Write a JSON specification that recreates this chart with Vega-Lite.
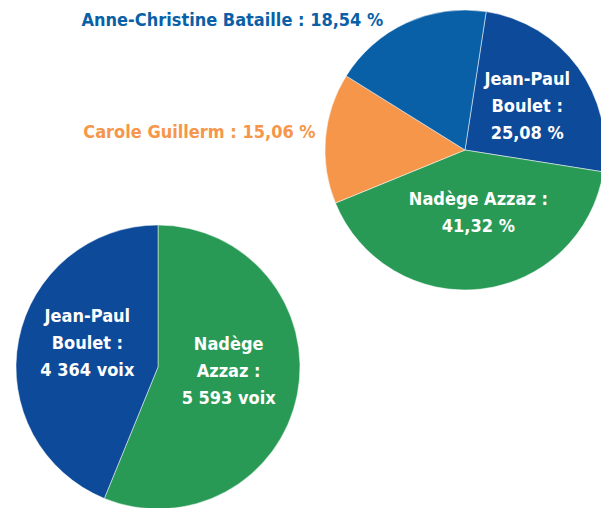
{
  "$schema": "https://vega.github.io/schema/vega-lite/v6.json",
  "width": 601,
  "height": 508,
  "autosize": {"type": "fit", "contains": "padding"},
  "padding": 0,
  "background": "white",
  "config": {"view": {"stroke": null}},
  "data": {
    "values": [
      {"tour": "1er tour", "candidat": "Jean-Paul Boulet", "valeur": 25.08, "rang": 1, "etiquette": "Jean-Paul\nBoulet :\n25,08 %"},
      {"tour": "1er tour", "candidat": "Nadège Azzaz", "valeur": 41.32, "rang": 2, "etiquette": "Nadège Azzaz :\n41,32 %"},
      {"tour": "1er tour", "candidat": "Carole Guillerm", "valeur": 15.06, "rang": 3, "etiquette": "Carole Guillerm : 15,06 %"},
      {"tour": "1er tour", "candidat": "Anne-Christine Bataille", "valeur": 18.54, "rang": 4, "etiquette": "Anne-Christine Bataille : 18,54 %"},
      {"tour": "2nd tour", "candidat": "Nadège Azzaz", "valeur": 5593, "rang": 1, "etiquette": "Nadège\nAzzaz :\n5 593 voix"},
      {"tour": "2nd tour", "candidat": "Jean-Paul Boulet", "valeur": 4364, "rang": 2, "etiquette": "Jean-Paul\nBoulet :\n4 364 voix"}
    ]
  },
  "encoding": {
    "x": {"field": "tour", "type": "nominal", "axis": null, "scale": {"type": "point", "padding": 0, "domain": ["2nd tour", "1er tour"], "range": [158, 465]}},
    "y": {"field": "tour", "type": "nominal", "axis": null, "scale": {"type": "point", "padding": 0, "domain": ["1er tour", "2nd tour"], "range": [150, 367]}},
    "order": {"field": "rang", "type": "quantitative"}
  },
  "resolve": {"scale": {"theta": "independent"}},
  "layer": [
    {
      "transform": [{"filter": "datum.tour === '1er tour'"}],
      "encoding": {
        "theta": {"field": "valeur", "type": "quantitative", "stack": true, "scale": {"range": [0.152, 6.4352]}}
      },
      "layer": [
        {
          "mark": {"type": "arc", "outerRadius": 140, "stroke": "white", "strokeWidth": 0.5},
          "encoding": {
            "color": {"field": "candidat", "type": "nominal", "legend": null,
              "scale": {"domain": ["Jean-Paul Boulet", "Nadège Azzaz", "Carole Guillerm", "Anne-Christine Bataille"],
                        "range": ["#0e4a9a", "#289a56", "#f6964a", "#0a60a7"]}}
          }
        },
        {
          "mark": {"type": "text", "radius": 77, "dy": -25, "color": "white", "font": "DejaVu Sans Condensed", "fontWeight": "bold", "fontSize": 18, "lineBreak": "\n", "lineHeight": 27, "align": "center", "baseline": "middle"},
          "encoding": {"text": {"condition": {"test": "datum.candidat === 'Jean-Paul Boulet'", "field": "etiquette"}, "value": ""}}
        },
        {
          "mark": {"type": "text", "radius": 64, "dx": 6, "dy": -14, "color": "white", "font": "DejaVu Sans Condensed", "fontWeight": "bold", "fontSize": 18, "lineBreak": "\n", "lineHeight": 27, "align": "center", "baseline": "middle"},
          "encoding": {"text": {"condition": {"test": "datum.candidat === 'Nadège Azzaz'", "field": "etiquette"}, "value": ""}}
        },
        {
          "mark": {"type": "text", "radius": 150, "dy": -4, "font": "DejaVu Sans Condensed", "fontWeight": "bold", "fontSize": 18, "align": "right", "baseline": "middle"},
          "encoding": {"text": {"condition": {"test": "datum.candidat === 'Carole Guillerm'", "field": "etiquette"}, "value": ""}, "color": {"field": "candidat", "type": "nominal", "legend": null}}
        },
        {
          "mark": {"type": "text", "radius": 148, "dx": -20, "dy": 5, "font": "DejaVu Sans Condensed", "fontWeight": "bold", "fontSize": 18, "align": "right", "baseline": "middle"},
          "encoding": {"text": {"condition": {"test": "datum.candidat === 'Anne-Christine Bataille'", "field": "etiquette"}, "value": ""}, "color": {"field": "candidat", "type": "nominal", "legend": null}}
        }
      ]
    },
    {
      "transform": [{"filter": "datum.tour === '2nd tour'"}],
      "encoding": {
        "theta": {"field": "valeur", "type": "quantitative", "stack": true, "scale": {"range": [0, 6.2832]}}
      },
      "layer": [
        {
          "mark": {"type": "arc", "outerRadius": 142, "stroke": "white", "strokeWidth": 0.5},
          "encoding": {"color": {"field": "candidat", "type": "nominal", "legend": null}}
        },
        {
          "mark": {"type": "text", "radius": 72, "dy": -36, "color": "white", "font": "DejaVu Sans Condensed", "fontWeight": "bold", "fontSize": 18, "lineBreak": "\n", "lineHeight": 27, "align": "center", "baseline": "middle"},
          "encoding": {"text": {"field": "etiquette"}}
        }
      ]
    }
  ]
}
